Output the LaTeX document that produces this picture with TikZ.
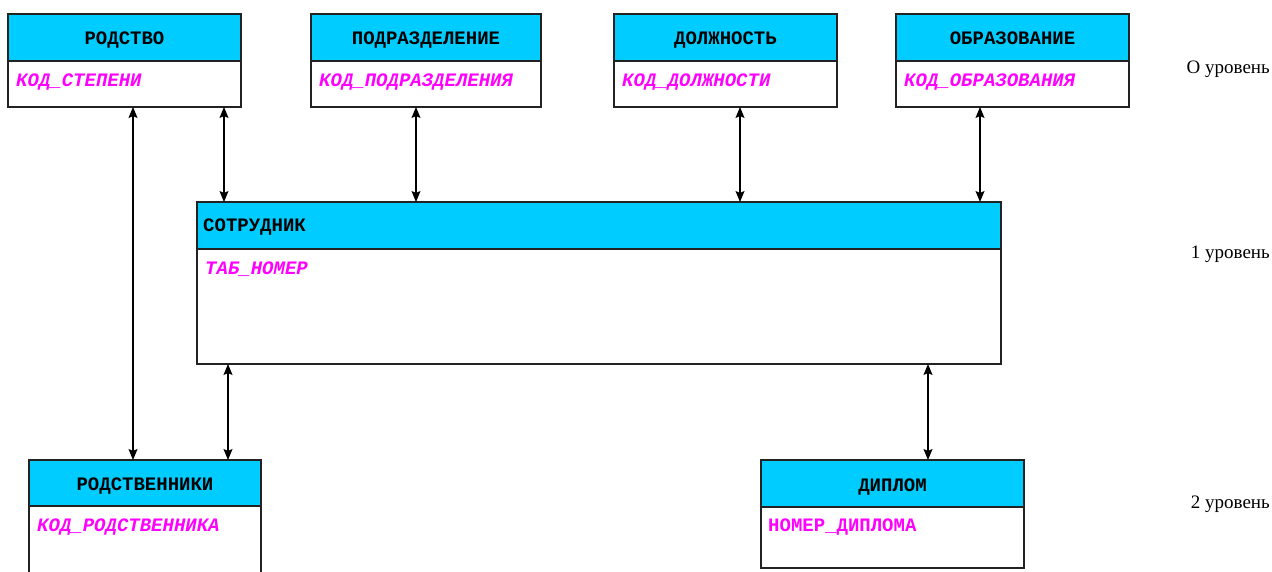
\documentclass[tikz,border=0pt]{standalone}
\usepackage{fontspec}
\setmainfont{Liberation Serif}
\newfontfamily\codefont{Liberation Mono}
\usetikzlibrary{arrows.meta}
\definecolor{hdrcyan}{HTML}{00CCFF}
\definecolor{attrmag}{HTML}{FF00FF}
\definecolor{edge}{HTML}{222222}
\tikzset{
  hdr/.style={draw=edge, line width=1.3pt, fill=hdrcyan, inner sep=0pt, outer sep=0pt, anchor=north west, text height=15pt, text depth=0pt, font=\codefont\bfseries\fontsize{19}{22}\selectfont},
  bodybox/.style={draw=edge, line width=1.3pt, fill=white, inner sep=0pt, outer sep=0pt, anchor=north west},
  attr/.style={anchor=west, inner sep=0pt, text=attrmag, font=\codefont\bfseries\itshape\fontsize{19}{22}\selectfont},
  attrup/.style={anchor=west, inner sep=0pt, text=attrmag, font=\codefont\bfseries\fontsize{19}{22}\selectfont},
  htxt/.style={inner sep=0pt, font=\codefont\bfseries\fontsize{19}{22}\selectfont},
  lvl/.style={anchor=east, inner sep=0pt, font=\fontsize{19}{22}\selectfont},
  link/.style={draw=black, line width=1.2pt, {Stealth[length=11pt,width=9pt,inset=2pt]}-{Stealth[length=11pt,width=9pt,inset=2pt]}}
}
\begin{document}
\begin{tikzpicture}[x=1pt,y=-1pt]
\useasboundingbox (0,0) rectangle (1272,572);
\clip (0,0) rectangle (1272,572);
\fill[white] (0,0) rectangle (1272,572);

% top level
\node[hdr, minimum width=233pt, minimum height=47pt] (rodH) at (8,14) {РОДСТВО};
\node[bodybox, minimum width=233pt, minimum height=46pt] (rodB) at (rodH.south west) {};
\node[attr] (rodA) at (16,82) {КОД\_СТЕПЕНИ};

\node[hdr, minimum width=230pt, minimum height=47pt] (podH) at (311,14) {ПОДРАЗДЕЛЕНИЕ};
\node[bodybox, minimum width=230pt, minimum height=46pt] (podB) at (podH.south west) {};
\node[attr] (podA) at (319,82) {КОД\_ПОДРАЗДЕЛЕНИЯ};

\node[hdr, minimum width=223pt, minimum height=47pt] (dolH) at (614,14) {ДОЛЖНОСТЬ};
\node[bodybox, minimum width=223pt, minimum height=46pt] (dolB) at (dolH.south west) {};
\node[attr] (dolA) at (622,82) {КОД\_ДОЛЖНОСТИ};

\node[hdr, minimum width=233pt, minimum height=47pt] (obrH) at (896,14) {ОБРАЗОВАНИЕ};
\node[bodybox, minimum width=233pt, minimum height=46pt] (obrB) at (obrH.south west) {};
\node[attr] (obrA) at (904,82) {КОД\_ОБРАЗОВАНИЯ};

% level 1
\node[hdr, minimum width=804pt, minimum height=47pt] (sotH) at (197,202) {};
\node[htxt, anchor=west] (sotT) at (203,227) {СОТРУДНИК};
\node[bodybox, minimum width=804pt, minimum height=115pt] (sotB) at (sotH.south west) {};
\node[attr] (sotA) at (205,269) {ТАБ\_НОМЕР};

% level 2
\node[hdr, minimum width=232pt, minimum height=46pt] (rdnH) at (29,460) {РОДСТВЕННИКИ};
\node[bodybox, minimum width=232pt, minimum height=100pt] (rdnB) at (rdnH.south west) {};
\node[attr] (rdnA) at (37,527) {КОД\_РОДСТВЕННИКА};

\node[hdr, minimum width=263pt, minimum height=47pt] (dipH) at (761,460) {ДИПЛОМ};
\node[bodybox, minimum width=263pt, minimum height=61pt] (dipB) at (dipH.south west) {};
\node[attrup] (dipA) at (768,527) {НОМЕР\_ДИПЛОМА};

% connectors
\draw[link] ([xshift=125pt]rodB.south west) -- ([xshift=104pt]rdnH.north west);
\draw[link] ([xshift=216pt]rodB.south west) -- ([xshift=27pt]sotH.north west);
\draw[link] ([xshift=105pt]podB.south west) -- ([xshift=219pt]sotH.north west);
\draw[link] ([xshift=126pt]dolB.south west) -- ([xshift=543pt]sotH.north west);
\draw[link] ([xshift=84pt]obrB.south west) -- ([xshift=783pt]sotH.north west);
\draw[link] ([xshift=31pt]sotB.south west) -- ([xshift=199pt]rdnH.north west);
\draw[link] ([xshift=731pt]sotB.south west) -- ([xshift=167pt]dipH.north west);

% level labels
\node[lvl] (l0) at (1270,69) {О уровень};
\node[lvl] (l1) at (1270,254) {1 уровень};
\node[lvl] (l2) at (1270,504) {2 уровень};
\end{tikzpicture}
\end{document}
